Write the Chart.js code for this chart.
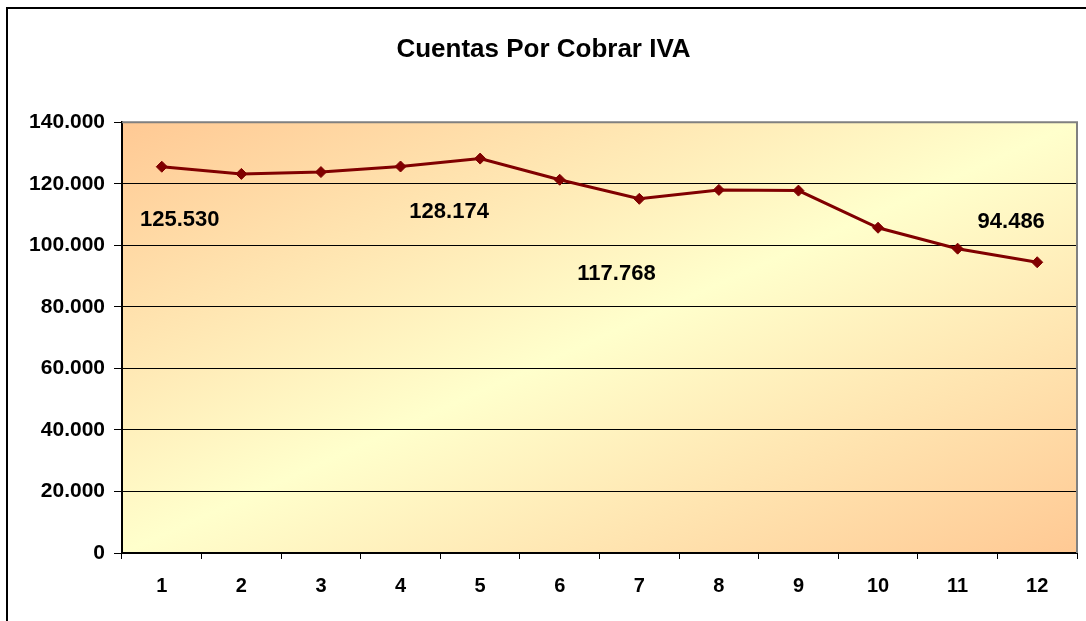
<!DOCTYPE html>
<html>
<head>
<meta charset="utf-8">
<script src="https://cdn.jsdelivr.net/npm/chart.js@4"></script>
<style>
  html, body { margin: 0; padding: 0; background: #fff; }
  #wrap { position: relative; width: 1086px; height: 621px; }
</style>
</head>
<body>
<div id="wrap"><canvas id="chart" width="1086" height="621"></canvas></div>
<script>
// chart data
const months = ['1', '2', '3', '4', '5', '6', '7', '8', '9', '10', '11', '12'];
const values = [125530, 123200, 123800, 125600, 128174, 121300, 115100, 118000, 117768, 105700, 98900, 94486];
const labelledPoints = [0, 4, 8, 11];
const yTicks = [0, 20000, 40000, 60000, 80000, 100000, 120000, 140000];

const FONT = '"Liberation Sans", Arial, sans-serif';

function fmt(v) {
  return Math.round(v).toString().replace(/\B(?=(\d{3})+(?!\d))/g, '.');
}

// plot background + borders
const plotArea = {
  id: 'plotArea',
  beforeDraw(chart) {
    const { ctx, chartArea: a } = chart;
    ctx.save();
    // gradient in unit-square space, like Excel's diagonal fill
    ctx.translate(a.left, a.top);
    ctx.scale(a.right - a.left, a.bottom - a.top);
    const g = ctx.createLinearGradient(0, 0, 1, 1);
    g.addColorStop(0, '#FFC994');
    g.addColorStop(0.5, '#FFFFCC');
    g.addColorStop(1, '#FFC994');
    ctx.fillStyle = g;
    ctx.fillRect(0, 0, 1, 1);
    ctx.restore();
    // outer frame
    ctx.save();
    ctx.strokeStyle = '#000';
    ctx.lineWidth = 2;
    ctx.beginPath();
    ctx.moveTo(7, 622);
    ctx.lineTo(7, 8);
    ctx.lineTo(1090, 8);
    ctx.stroke();
    ctx.restore();
  },
  afterDraw(chart) {
    const { ctx, chartArea: a } = chart;
    ctx.save();
    ctx.lineWidth = 2;
    ctx.strokeStyle = '#808080';
    ctx.beginPath();
    ctx.moveTo(a.left, a.top);
    ctx.lineTo(a.right, a.top);
    ctx.lineTo(a.right, a.bottom);
    ctx.stroke();
    ctx.restore();
  }
};

// data labels, placed like the original sheet
const pointLabels = {
  id: 'pointLabels',
  afterDatasetsDraw(chart, args, opts) {
    const { ctx } = chart;
    const meta = chart.getDatasetMeta(0);
    ctx.save();
    ctx.font = 'bold 22px ' + FONT;
    ctx.fillStyle = '#000';
    ctx.textAlign = 'center';
    ctx.textBaseline = 'middle';
    labelledPoints.forEach((i, k) => {
      const p = meta.data[i];
      const off = opts.offsets[k];
      ctx.fillText(fmt(values[i]), p.x + off[0], p.y + off[1]);
    });
    ctx.restore();
  }
};

new Chart(document.getElementById('chart'), {
  type: 'line',
  data: {
    labels: months,
    datasets: [{
      data: values,
      borderColor: '#800000',
      backgroundColor: '#800000',
      borderWidth: 3,
      pointStyle: 'rectRot',
      pointRadius: 5.5,
      pointBorderWidth: 1,
      tension: 0
    }]
  },
  options: {
    responsive: false,
    animation: false,
    layout: { padding: { left: 10, right: 9, top: 0, bottom: 0 } },
    plugins: {
      legend: { display: false },
      tooltip: { enabled: false },
      title: {
        display: true,
        text: 'Cuentas Por Cobrar IVA',
        color: '#000',
        font: { family: FONT, size: 26, weight: 'bold' },
        padding: { top: 34, bottom: 57 }
      },
      pointLabels: {
        offsets: [[18, 53], [-31, 53], [-182, 83], [-26, -40]]
      }
    },
    scales: {
      x: {
        offset: true,
        grid: {
          offset: true,
          drawOnChartArea: false,
          color: '#000',
          tickLength: 6,
          tickWidth: 1
        },
        border: { color: '#000', width: 2 },
        ticks: {
          color: '#000',
          padding: 15,
          font: { family: FONT, size: 20, weight: 'bold' }
        },
        afterFit(s) { s.height = 68; }
      },
      y: {
        min: 0,
        max: 140000,
        afterBuildTicks(s) { s.ticks = yTicks.map(v => ({ value: v })); },
        grid: {
          color: '#000',
          lineWidth: 1,
          tickLength: 8
        },
        border: { color: '#000', width: 2 },
        ticks: {
          color: '#000',
          padding: 9,
          font: { family: FONT, size: 21, weight: 'bold' },
          callback: v => fmt(v)
        },
        afterFit(s) { s.width = 112; }
      }
    }
  },
  plugins: [plotArea, pointLabels]
});
</script>
</body>
</html>
